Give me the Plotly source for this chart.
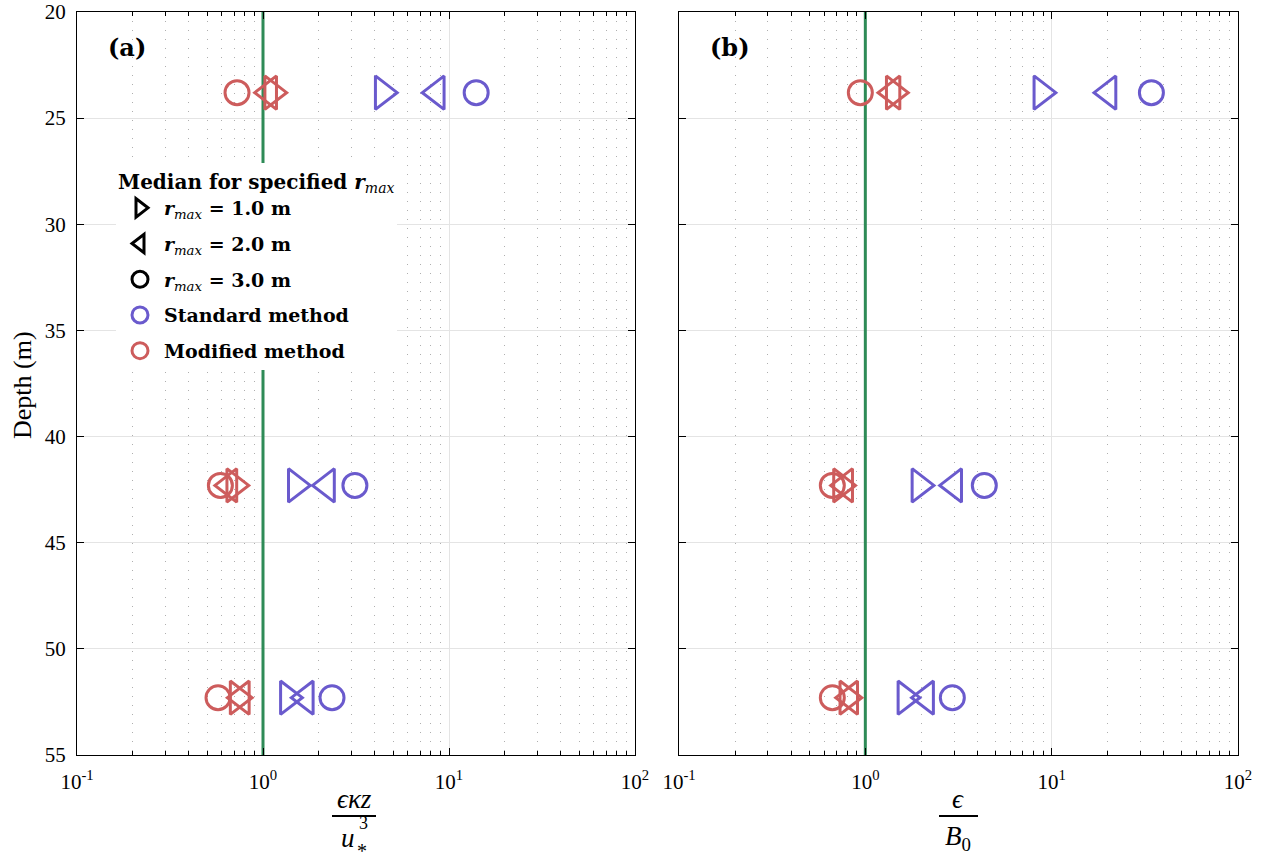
import plotly.graph_objects as go

W, H = 1268, 863
L, R, T, B = 77, 1238, 12, 755  # plot-area pixel bounds

depths = [23.8, 42.3, 52.3]

# Panel (a): eps*kappa*z/u*^3
a_std_r1 = [4.4, 1.50, 1.36]
a_std_r2 = [8.6, 2.21, 1.70]
a_std_r3 = [14.0, 3.12, 2.35]
a_mod_r1 = [1.12, 0.70, 0.73]
a_mod_r2 = [1.08, 0.66, 0.77]
a_mod_r3 = [0.725, 0.59, 0.573]

# Panel (b): eps/B0
b_std_r1 = [8.8, 1.95, 1.64]
b_std_r2 = [20.2, 3.0, 2.12]
b_std_r3 = [34.3, 4.35, 2.93]
b_mod_r1 = [1.42, 0.74, 0.80]
b_mod_r2 = [1.40, 0.78, 0.83]
b_mod_r3 = [0.94, 0.665, 0.665]

xtick_alias = {"0.1": "10<sup>-1</sup>", "1": "10<sup>0</sup>",
               "10": "10<sup>1</sup>", "100": "10<sup>2</sup>"}
ytick_vals = [20, 25, 30, 35, 40, 45, 50, 55]

BLUE = "rgb(106,90,205)"
RED = "rgb(205,92,92)"
GREEN = "rgb(46,139,87)"
FONT = "Liberation Serif"
LFONT = "DejaVu Serif"

fig = go.Figure()

def px_x(p):
    return (p - L) / (R - L)

def px_y(p):
    return (B - p) / (B - T)

panels = [
    ("x", "y", [a_std_r1, a_std_r2, a_std_r3], [a_mod_r1, a_mod_r2, a_mod_r3]),
    ("x2", "y2", [b_std_r1, b_std_r2, b_std_r3], [b_mod_r1, b_mod_r2, b_mod_r3]),
]
symbols = ["triangle-right-open", "triangle-left-open", "circle-open"]
sizes = [29, 29, 24]

for xa, ya, std, mod in panels:
    fig.add_trace(go.Scatter(x=[1, 1], y=[20, 55], mode="lines",
                             line=dict(color=GREEN, width=3), xaxis=xa, yaxis=ya,
                             showlegend=False, hoverinfo="skip"))
    for vals, col in [(std, BLUE), (mod, RED)]:
        for v, s, sz in zip(vals, symbols, sizes):
            fig.add_trace(go.Scatter(x=v, y=depths, mode="markers",
                                     marker=dict(symbol=s, size=sz, color=col,
                                                 line=dict(width=3, color=col)),
                                     xaxis=xa, yaxis=ya, showlegend=False))

# Legend entries
leg = [
    ("<b><i>r</i></b><sub><i>max</i></sub><b> = 1.0 m</b>", "triangle-right-open", "black"),
    ("<b><i>r</i></b><sub><i>max</i></sub><b> = 2.0 m</b>", "triangle-left-open", "black"),
    ("<b><i>r</i></b><sub><i>max</i></sub><b> = 3.0 m</b>", "circle-open", "black"),
    ("<b>Standard method</b>", "circle-open", BLUE),
    ("<b>Modified method</b>", "circle-open", RED),
]
for i, (name, sym, col) in enumerate(leg):
    fig.add_trace(go.Scatter(x=[None], y=[None], mode="markers", name=name,
                             legendgroup=f"g{i}",
                             marker=dict(symbol=sym, size=16, color=col,
                                         line=dict(width=3, color=col)),
                             xaxis="x", yaxis="y"))

xcommon = dict(type="log", range=[-1, 2], tickmode="linear", tick0=0, dtick=1,
               exponentformat="none", labelalias=xtick_alias,
               ticks="inside", ticklen=7, tickcolor="black", mirror="ticks",
               showline=True, linecolor="black", linewidth=1,
               showgrid=True, gridcolor="rgb(228,228,228)", gridwidth=1,
               zeroline=False, automargin=False, ticklabelstandoff=8,
               minor=dict(ticks="inside", ticklen=4, tickcolor="black",
                          showgrid=True, gridcolor="rgb(175,175,175)",
                          griddash="1px,8px", gridwidth=1),
               tickfont=dict(family=FONT, size=21, color="black"))
ycommon = dict(range=[55, 20], tickmode="array", tickvals=ytick_vals,
               ticks="inside", ticklen=7, tickcolor="black", mirror="ticks",
               showline=True, linecolor="black", linewidth=1,
               showgrid=True, gridcolor="rgb(228,228,228)", gridwidth=1,
               zeroline=False, automargin=False, ticklabelstandoff=6,
               tickfont=dict(family=FONT, size=21, color="black"))

fig.update_layout(
    width=W, height=H,
    margin=dict(l=L, r=W - R, t=T, b=H - B, autoexpand=False),
    paper_bgcolor="white", plot_bgcolor="white",
    font=dict(family=FONT, color="black"),
    xaxis=dict(domain=[0, px_x(635)], anchor="y", **xcommon),
    yaxis=dict(domain=[0, 1], anchor="x", **ycommon),
    xaxis2=dict(domain=[px_x(679), 1], anchor="y2", **xcommon),
    yaxis2=dict(domain=[0, 1], anchor="x2", showticklabels=False,
                **{k: v for k, v in ycommon.items() if k != "tickfont"}),
    legend=dict(x=px_x(116), y=px_y(163), xanchor="left", yanchor="top",
                bgcolor="white", borderwidth=0,
                traceorder="grouped", tracegroupgap=8,
                title=dict(text="<b>Median for specified <i>r</i></b><sub><i>max</i></sub>",
                           font=dict(family=LFONT, size=20, color="black"), side="top"),
                font=dict(family=LFONT, size=19, color="black"),
                itemwidth=38),
    showlegend=True,
)

anns = [
    dict(x=px_x(127), y=px_y(47), text="<b>(a)</b>", font=dict(family=LFONT, size=24)),
    dict(x=px_x(730), y=px_y(47), text="<b>(b)</b>", font=dict(family=LFONT, size=24)),
    dict(x=px_x(22), y=px_y(385), text="Depth (m)", textangle=-90, font=dict(family=FONT, size=26)),
    dict(x=px_x(354), y=px_y(799), text="<i>ϵκz</i>", font=dict(family=FONT, size=27)),
    dict(x=px_x(348), y=px_y(838), text="<i>u</i>", font=dict(family=FONT, size=27)),
    dict(x=px_x(363), y=px_y(823), text="3", font=dict(family=FONT, size=18)),
    dict(x=px_x(362), y=px_y(851), text="*", font=dict(family=FONT, size=20)),
    dict(x=px_x(958), y=px_y(799), text="<i>ϵ</i>", font=dict(family=FONT, size=27)),
    dict(x=px_x(958), y=px_y(838), text="<i>B</i><sub>0</sub>", font=dict(family=FONT, size=27)),
]
for a in anns:
    a.update(xref="paper", yref="paper", showarrow=False, xanchor="center", yanchor="middle")
    a["font"] = dict(color="black", **a["font"])
    fig.add_annotation(**a)

fig.add_shape(type="line", xref="paper", yref="paper", x0=px_x(332), x1=px_x(376),
              y0=px_y(816), y1=px_y(816), line=dict(color="black", width=2))
fig.add_shape(type="line", xref="paper", yref="paper", x0=px_x(939), x1=px_x(978),
              y0=px_y(816), y1=px_y(816), line=dict(color="black", width=2))

fig.write_html("out.html")
